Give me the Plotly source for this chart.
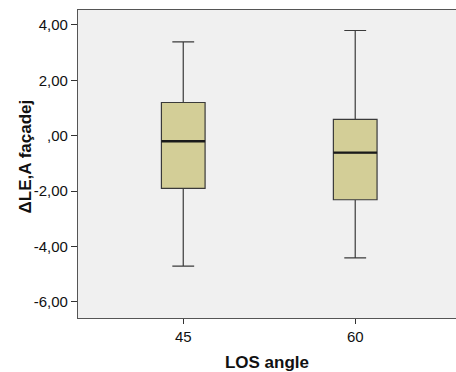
import plotly.graph_objects as go

categories = ["45", "60"]
q1 = [-1.90, -2.31]
median = [-0.20, -0.61]
q3 = [1.20, 0.59]
lowerfence = [-4.71, -4.41]
upperfence = [3.39, 3.80]

y_tickvals = [4, 2, 0, -2, -4, -6]
y_ticktext = ["4,00", "2,00", ",00", "-2,00", "-4,00", "-6,00"]
y_title = "ΔLE,A façadej"
x_title = "LOS angle"

box_width = 0.254
font_family = "Liberation Sans, Arial, sans-serif"

fig = go.Figure()
fig.add_trace(go.Box(
    x=categories, q1=q1, median=median, q3=q3,
    lowerfence=lowerfence, upperfence=upperfence,
    width=box_width, whiskerwidth=0.5,
    fillcolor="#D3CE97",
    line=dict(color="#3a3a3a", width=1.2),
    boxpoints=False, showlegend=False, hoverinfo="skip",
))

# thicker median lines (SPSS style)
for i, m in enumerate(median):
    fig.add_shape(type="line", xref="x", yref="y",
                  x0=i - box_width / 2, x1=i + box_width / 2, y0=m, y1=m,
                  line=dict(color="#1a1a1a", width=2.4))

fig.update_layout(
    width=456, height=372,
    margin=dict(l=78, r=0, t=10, b=54),
    paper_bgcolor="white",
    plot_bgcolor="#F0F0F0",
    font=dict(family=font_family, size=15, color="#111"),
)
fig.add_annotation(
    text=f"<b>{y_title}</b>", xref="paper", yref="paper",
    x=-0.140, y=0.525, xanchor="center", yanchor="middle",
    textangle=-90, showarrow=False, font=dict(size=17, family=font_family),
)
fig.update_xaxes(
    type="category",
    range=[-0.612, 1.586],
    showline=True, mirror=True, linecolor="#555", linewidth=1.3,
    ticks="outside", ticklen=5, tickcolor="#333",
    showgrid=False, zeroline=False,
    tickfont=dict(size=15),
    title=dict(text=x_title, font=dict(size=17, family=font_family, weight="bold"), standoff=13),
)
fig.update_yaxes(
    range=[-6.58, 4.54],
    tickvals=y_tickvals, ticktext=y_ticktext,
    showline=True, mirror=False, linecolor="#555", linewidth=1.3,
    ticks="outside", ticklen=6, tickcolor="#333",
    showgrid=False, zeroline=False,
    tickfont=dict(size=15),
)

fig.write_html("out.html", config={"displayModeBar": False},
               post_script="document.body.style.margin='0';")
